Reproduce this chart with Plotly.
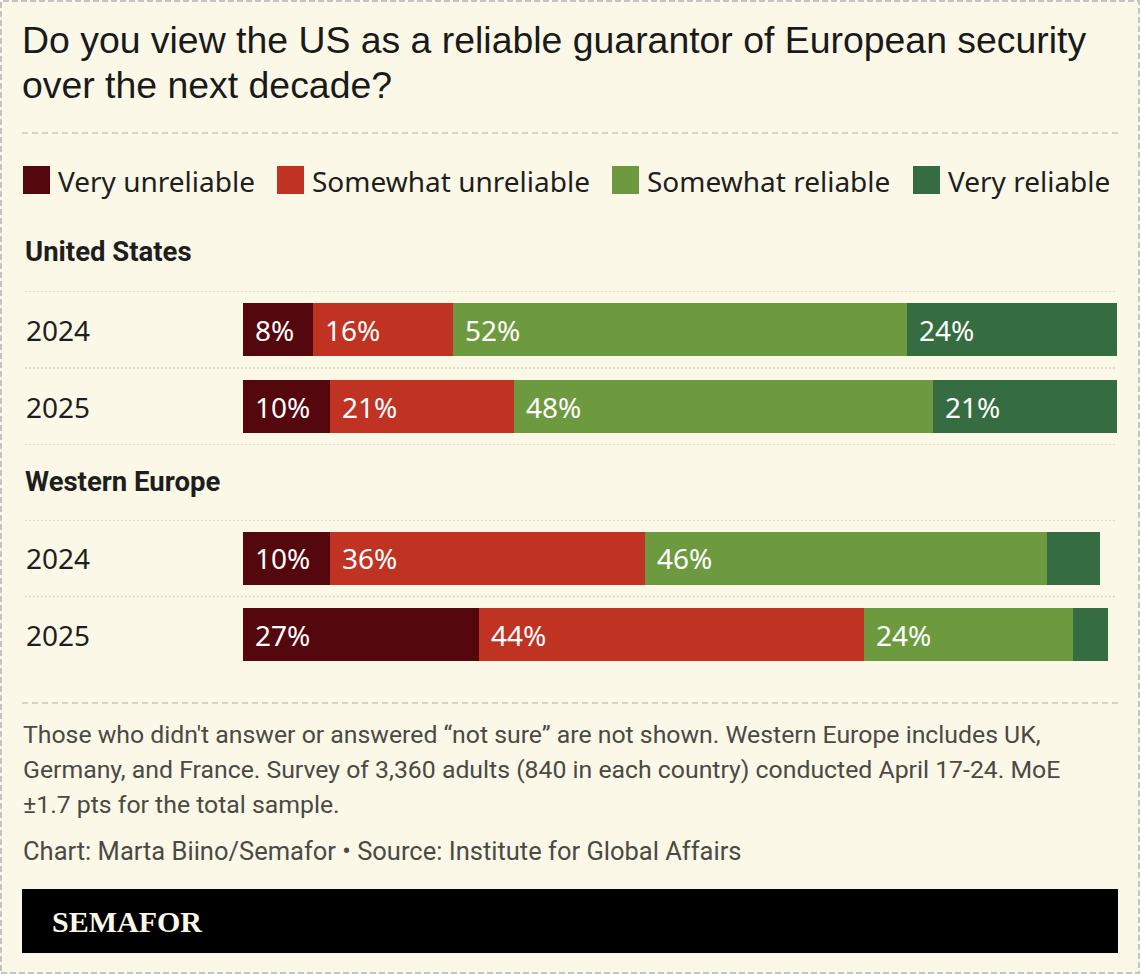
import plotly.graph_objects as go
from plotly.subplots import make_subplots


W, H = 1140, 974
BG = "#fbf8e7"

years = ["2024", "2025"]
groups = ["United States", "Western Europe"]
answers = ["Very unreliable", "Somewhat unreliable", "Somewhat reliable", "Very reliable"]
answer_colors = ["#55070e", "#c03323", "#6e9a3f", "#356c41"]

# share of respondents (%), each list is [2024, 2025]
us_very_unreliable = [8, 10]
us_somewhat_unreliable = [16, 21]
us_somewhat_reliable = [52, 48]
us_very_reliable = [24, 21]

we_very_unreliable = [10, 27]
we_somewhat_unreliable = [36, 44]
we_somewhat_reliable = [46, 24]
we_very_reliable = [6, 4]

title_lines = [
    "Do you view the US as a reliable guarantor of European security",
    "over the next decade?",
]
note_lines = [
    "Those who didn't answer or answered \u201cnot sure\u201d are not shown. Western Europe includes UK,",
    "Germany, and France. Survey of 3,360 adults (840 in each country) conducted April 17-24. MoE",
    "\u00b11.7 pts for the total sample.",
]
source_text = "Chart: Marta Biino/Semafor \u2022 Source: Institute for Global Affairs"
brand = "SEMAFOR"


def px_x(p):
    return p / W


def px_y(p):
    return 1 - p / H


TEXT = "#1e1e1e"
NOTE = "#4a4a45"
SANS = "Noto Sans"

fig = make_subplots(rows=2, cols=1)

series = {
    1: [us_very_unreliable, us_somewhat_unreliable, us_somewhat_reliable, us_very_reliable],
    2: [we_very_unreliable, we_somewhat_unreliable, we_somewhat_reliable, we_very_reliable],
}

for row, group_vals in series.items():
    xref = "x" if row == 1 else "x2"
    yref = "y" if row == 1 else "y2"
    starts = [0] * len(years)
    for name, color, vals in zip(answers, answer_colors, group_vals):
        fig.add_trace(
            go.Bar(
                name=name, y=years, x=vals, orientation="h",
                marker=dict(color=color, line=dict(width=0)),
                showlegend=False, hoverinfo="skip",
            ),
            row=row, col=1
        )
        # percentage labels, only where the segment is wide enough
        for i, (s, v) in enumerate(zip(starts, vals)):
            if v >= 8:
                fig.add_annotation(
                    x=s, y=i, xref=xref, yref=yref,
                    xanchor="left", yanchor="middle", xshift=10,
                    text=f"{v}%", showarrow=False,
                    font=dict(family=SANS, size=28, color="white"),
                )
        starts = [s + v for s, v in zip(starts, vals)]

    # year labels at the left edge
    for i, yr in enumerate(years):
        fig.add_annotation(
            x=px_x(24), y=i, xref="paper", yref=yref,
            xanchor="left", yanchor="middle", text=yr, showarrow=False,
            font=dict(family=SANS, size=28, color=TEXT),
        )

# dotted row separators
dotted = dict(color="#ccc8b4", width=1.5, dash="1.5px,2.5px")
for yref, positions in (("y", [-0.5, 0.5, 1.5]), ("y2", [-0.5, 0.5])):
    for p in positions:
        fig.add_shape(type="line", xref="paper", yref=yref,
                      x0=px_x(25), x1=px_x(1117), y0=p, y1=p, line=dotted)

# group headings
for name, ypx in zip(groups, [252, 482]):
    fig.add_annotation(
        x=px_x(23), y=px_y(ypx), xref="paper", yref="paper",
        xanchor="left", yanchor="middle", text=f"<b>{name}</b>", showarrow=False,
        font=dict(family="Roboto", size=27.5, color=TEXT),
    )

# title
for line, ypx in zip(title_lines, [40, 85]):
    fig.add_annotation(
        x=px_x(20), y=px_y(ypx), xref="paper", yref="paper",
        xanchor="left", yanchor="middle", text=line, showarrow=False,
        font=dict(family="Liberation Sans", size=37.4, color="#1a1a1a"),
    )

# dashed separators
dashed = dict(color="#c9c7bd", width=1.5, dash="6px,4px")
for ypx in [133, 703]:
    fig.add_shape(type="line", xref="paper", yref="paper",
                  x0=px_x(22), x1=px_x(1118), y0=px_y(ypx), y1=px_y(ypx), line=dashed)

# legend built from swatches and labels
legend_box_x = [23, 277, 612, 913]
for name, color, bx in zip(answers, answer_colors, legend_box_x):
    fig.add_shape(type="rect", xref="paper", yref="paper",
                  x0=px_x(bx), x1=px_x(bx + 27), y0=px_y(194), y1=px_y(166),
                  fillcolor=color, line=dict(width=0))
    fig.add_annotation(
        x=px_x(bx + 33), y=px_y(181), xref="paper", yref="paper",
        xanchor="left", yanchor="middle", text=name, showarrow=False,
        font=dict(family=SANS, size=28, color=TEXT),
    )

# notes and source
for line, ypx in zip(note_lines, [734, 769, 804]):
    fig.add_annotation(
        x=px_x(21), y=px_y(ypx), xref="paper", yref="paper",
        xanchor="left", yanchor="middle", text=line, showarrow=False,
        font=dict(family="Roboto", size=24.8, color=NOTE),
    )
fig.add_annotation(
    x=px_x(21), y=px_y(851), xref="paper", yref="paper",
    xanchor="left", yanchor="middle", text=source_text, showarrow=False,
    font=dict(family="Roboto", size=25.5, color=NOTE),
)

# brand banner
fig.add_shape(type="rect", xref="paper", yref="paper",
              x0=px_x(22), x1=px_x(1118), y0=px_y(953), y1=px_y(889),
              fillcolor="black", line=dict(width=0))
fig.add_annotation(
    x=px_x(50), y=px_y(921), xref="paper", yref="paper",
    xanchor="left", yanchor="middle", text=f"<b>{brand}</b>", showarrow=False,
    font=dict(family="Liberation Serif", size=30, color=BG),
)

# outer dashed frame
fig.add_shape(type="rect", xref="paper", yref="paper",
              x0=px_x(1), x1=px_x(1139), y0=px_y(973), y1=px_y(1),
              line=dict(color="#c4c4c0", width=2, dash="6px,3px"))

fig.update_layout(
    barmode="stack",
    bargap=0.31,
    width=W, height=H,
    margin=dict(l=0, r=0, t=0, b=0),
    paper_bgcolor=BG,
    plot_bgcolor=BG,
    xaxis=dict(domain=[px_x(243), px_x(1117)], range=[0, 100], visible=False),
    xaxis2=dict(domain=[px_x(243), px_x(1117)], range=[0, 100], visible=False),
    yaxis=dict(domain=[px_y(445), px_y(291)], type="category",
               categoryorder="array", categoryarray=years, range=[1.5, -0.5], visible=False),
    yaxis2=dict(domain=[px_y(673), px_y(520)], type="category",
                categoryorder="array", categoryarray=years, range=[1.5, -0.5], visible=False),
)

fig.write_html("out.html", config=dict(displayModeBar=False),
               post_script="document.body.style.margin='0';")
